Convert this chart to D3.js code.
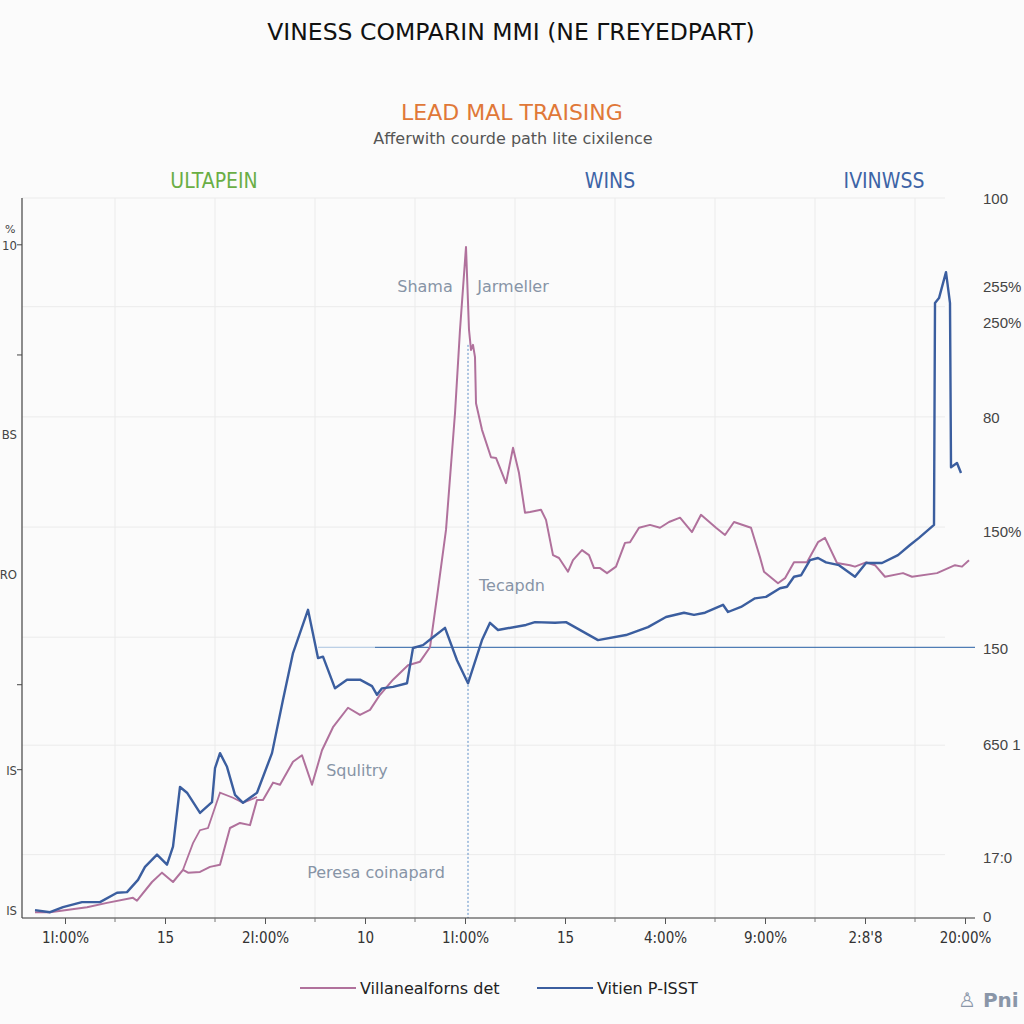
<!DOCTYPE html>
<html>
<head>
<meta charset="utf-8">
<script src="https://cdn.jsdelivr.net/npm/d3@7"></script>
<style>
  html, body { margin: 0; padding: 0; background: #fbfbfb; }
  svg { display: block; font-family: "DejaVu Sans", "Noto Sans", sans-serif; }
</style>
</head>
<body>
<div id="chart"></div>
<script>
// ── Data (x in tick units 10..100, y in 0..100) ─────────────
const pinkSeries = [
  [7.0,0.8],[8.5,0.8],[12.2,1.5],[14.2,2.1],[16.8,2.8],[17.2,2.4],[18.7,5.0],[19.7,6.3],
  [20.8,5.0],[21.8,6.7],[22.3,6.3],[23.5,6.4],[24.5,7.1],[25.5,7.4],[26.5,12.5],[27.5,13.2],
  [28.5,12.9],[29.2,16.4],[29.8,16.4],[30.8,18.8],[31.5,18.5],[32.8,21.7],[33.7,22.6],[34.7,18.5],
  [35.7,23.3],[36.8,26.5],[38.3,29.2],[39.5,28.2],[40.5,28.9],[41.5,31.0],[42.8,33.1],[44.3,35.1],
  [45.5,35.6],[46.5,37.6],[47.2,44.6],[48.1,53.9],[49.0,70.1],[49.5,81.7],[50.1,93.2],[50.4,81.7],
  [50.6,78.9],[50.8,79.6],[51.0,77.9],[51.1,71.5],[51.7,67.8],[52.6,64.0],[53.1,63.9],[54.1,60.4],
  [54.8,65.3],[55.4,61.8],[56.0,56.3],[56.5,56.4],[57.6,56.7],[58.1,55.3],[58.8,50.4],[59.4,50.0],
  [60.3,48.1],[60.8,49.7],[61.7,51.1],[62.4,50.4],[62.9,48.6],[63.5,48.6],[64.2,47.9],[65.1,48.8],
  [66.0,52.1],[66.5,52.2],[67.4,54.2],[68.5,54.6],[69.5,54.2],[70.4,55.0],[71.5,55.6],[72.7,53.6],
  [73.6,56.0],[75.1,54.2],[76.0,53.2],[76.9,55.0],[78.6,54.2],[79.5,50.1],[79.9,48.1],[81.3,46.5],
  [82.0,47.2],[82.9,49.4],[84.2,49.4],[85.3,52.2],[86.0,52.8],[87.2,49.3],[88.5,49.0],[89.0,48.8],
  [90.1,49.4],[91.0,49.0],[92.0,47.4],[93.8,47.9],[94.7,47.4],[97.2,47.9],[99.0,49.0],[99.7,48.8],
  [100.4,49.7]
];
const pinkEcho = [
  [21.8,6.7],[22.8,10.4],[23.5,12.2],[24.3,12.5],[25.5,17.4],[26.8,16.7],[27.8,16.0],[29.2,16.8]
];
const blueSeries = [
  [7.0,1.1],[8.5,0.8],[9.8,1.5],[11.7,2.2],[13.5,2.2],[15.2,3.5],[16.2,3.6],[17.3,5.3],
  [18.0,7.1],[19.2,8.8],[20.2,7.4],[20.8,9.9],[21.5,18.2],[22.2,17.4],[23.5,14.6],[24.7,16.1],
  [25.0,20.8],[25.5,22.9],[26.2,21.0],[27.0,17.1],[27.8,16.0],[29.2,17.4],[30.7,22.9],[31.8,30.3],
  [32.8,36.8],[34.3,42.8],[35.3,36.1],[35.8,36.3],[37.0,31.9],[38.2,33.1],[39.5,33.1],[40.7,32.2],
  [41.2,31.0],[41.7,31.9],[42.8,32.1],[44.2,32.6],[44.8,37.5],[45.8,37.9],[46.8,39.0],[48.0,40.3],
  [49.2,35.8],[50.3,32.6],[51.7,38.6],[52.5,41.0],[53.3,40.0],[56.1,40.7],[57.0,41.1],[59.0,41.0],
  [60.1,41.1],[63.3,38.6],[66.1,39.3],[68.3,40.4],[70.1,41.8],[71.9,42.4],[72.9,42.1],[74.0,42.4],
  [75.8,43.5],[76.3,42.5],[77.6,43.2],[79.0,44.4],[80.1,44.6],[81.5,45.8],[82.2,46.0],[82.9,47.4],
  [83.6,47.6],[84.5,49.7],[85.3,50.0],[86.1,49.4],[87.4,49.0],[89.0,47.4],[90.1,49.3],[91.7,49.3],
  [93.3,50.4],[94.5,51.8],[95.4,52.8],[96.9,54.6],[97.0,85.4],[97.4,86.1],[98.1,89.7],[98.5,85.4],
  [98.6,62.6],[99.2,63.2],[99.6,61.8]
];

const xTickValues = [10, 20, 30, 40, 50, 60, 70, 80, 90, 100];
const xTickLabels = ['1I:00%', '15', '2I:00%', '10', '1I:00%', '15', '4:00%', '9:00%', '2:8\'8', '20:00%'];
const xGridValues = [15, 25, 35, 45, 55, 65, 75, 85, 95];
const yGridValues = [8.8, 24, 39, 54.3, 69.6, 84.9, 100];

const rightTickValues = [100, 87.8, 82.8, 69.6, 53.8, 37.5, 24.2, 8.5, 0.3];
const rightTickLabels = ['100', '255%', '250%', '80', '150%', '150', '650 1', '17:0', '0'];
const leftTickMarks = [93.5, 78.2, 32.4, 20.6];
const leftTickValues = [93.5, 67.2, 47.8, 20.6, 1.1];
const leftTickLabels = ['10', 'BS', 'RO', 'IS', 'IS'];

const notes = [
  { text: 'Shama', x: 46.0, y: 87.8 },
  { text: 'Jarmeller', x: 54.8, y: 87.8 },
  { text: 'Tecapdn', x: 54.7, y: 46.2 },
  { text: 'Squlitry', x: 39.2, y: 20.6 },
  { text: 'Peresa coinapard', x: 41.1, y: 6.4 }
];
const headers = [
  { text: 'ULTAPEIN', x: 24.9, color: '#6aae45' },
  { text: 'WINS', x: 64.5, color: '#3d64a6' },
  { text: 'IVINWSS', x: 91.9, color: '#3d64a6' }
];
const legendItems = [
  { name: 'Villanealforns det', color: '#b0719c' },
  { name: 'Vitien P-ISST', color: '#3b5e9f' }
];

// ── Layout ──────────────────────────────────────────────────
const W = 1024, H = 1024;
const PINK = '#b0719c', BLUE = '#3b5e9f';
const NARROW = '"Liberation Sans Narrow", "DejaVu Sans Condensed", sans-serif';

const svg = d3.select('#chart').append('svg')
  .attr('width', W).attr('height', H);

svg.append('rect').attr('width', W).attr('height', H).attr('fill', '#fbfbfb');

const x = d3.scaleLinear().domain([10, 100]).range([65, 965]);
const y = d3.scaleLinear().domain([0, 100]).range([918, 198]);
const plotL = 22, plotR = 975;

// Titles
svg.append('text')
  .attr('x', 511).attr('y', 40)
  .attr('text-anchor', 'middle')
  .attr('font-size', 23.5).attr('fill', '#111')
  .text('VINESS COMPARIN MMI (NE ΓREYEDPART)');

svg.append('text')
  .attr('x', 512).attr('y', 120)
  .attr('text-anchor', 'middle')
  .attr('font-size', 22).attr('fill', '#e07838')
  .text('LEAD MAL TRAISING');

svg.append('text')
  .attr('x', 513).attr('y', 144)
  .attr('text-anchor', 'middle')
  .attr('font-size', 16).attr('fill', '#555')
  .text('Afferwith courde path lite cixilence');

svg.selectAll('text.header')
  .data(headers)
  .enter().append('text')
  .attr('class', 'header')
  .attr('x', d => x(d.x)).attr('y', 188)
  .attr('text-anchor', 'middle')
  .attr('font-family', NARROW)
  .attr('font-size', 21)
  .attr('fill', d => d.color)
  .text(d => d.text);

// Grid
const grid = svg.append('g');
grid.selectAll('line.gx')
  .data(xGridValues)
  .enter().append('line')
  .attr('x1', d => x(d)).attr('x2', d => x(d))
  .attr('y1', y(100)).attr('y2', y(0))
  .attr('stroke', '#ebebeb').attr('stroke-width', 1);

grid.selectAll('line.gy')
  .data(yGridValues)
  .enter().append('line')
  .attr('x1', plotL).attr('x2', plotR - 30)
  .attr('y1', d => y(d)).attr('y2', d => y(d))
  .attr('stroke', '#ebebeb').attr('stroke-width', 1);

// Reference lines
svg.append('line')
  .attr('x1', x(35.3)).attr('x2', x(41))
  .attr('y1', y(37.6)).attr('y2', y(37.6))
  .attr('stroke', '#a9c3e0').attr('stroke-width', 1);
svg.append('line')
  .attr('x1', x(41)).attr('x2', plotR)
  .attr('y1', y(37.6)).attr('y2', y(37.6))
  .attr('stroke', '#4f7db5').attr('stroke-width', 1.2);
svg.append('line')
  .attr('x1', x(50.3)).attr('x2', x(50.3))
  .attr('y1', y(79.6)).attr('y2', y(0))
  .attr('stroke', '#5a8cc6').attr('stroke-width', 1)
  .attr('stroke-dasharray', '2,2');

// Axes
const xAxis = d3.axisBottom(x)
  .tickValues(xTickValues)
  .tickFormat((d, i) => xTickLabels[i])
  .tickSize(6).tickPadding(8);
const gx = svg.append('g')
  .attr('transform', `translate(0,${y(0)})`)
  .call(xAxis);
gx.select('.domain').attr('d', `M${plotL},0H${plotR}`).attr('stroke', '#333');
gx.selectAll('.tick line').attr('stroke', '#555');
gx.selectAll('.tick text')
  .attr('fill', '#333')
  .attr('font-family', NARROW)
  .style('font-size', '15px');
gx.selectAll('line.minor')
  .data(xGridValues)
  .enter().append('line')
  .attr('x1', d => x(d)).attr('x2', d => x(d))
  .attr('y1', 0).attr('y2', 4)
  .attr('stroke', '#777');

// Left axis
const gl = svg.append('g');
gl.append('line')
  .attr('x1', plotL).attr('x2', plotL)
  .attr('y1', y(100)).attr('y2', y(0))
  .attr('stroke', '#444').attr('stroke-width', 1.2);
gl.selectAll('line.lt')
  .data(leftTickMarks)
  .enter().append('line')
  .attr('x1', plotL - 5).attr('x2', plotL)
  .attr('y1', d => y(d)).attr('y2', d => y(d))
  .attr('stroke', '#444');
gl.selectAll('text.ll')
  .data(leftTickValues)
  .enter().append('text')
  .attr('x', 17).attr('y', d => y(d) + 5)
  .attr('text-anchor', 'end')
  .attr('font-family', NARROW)
  .attr('font-size', 13).attr('fill', '#444')
  .text((d, i) => leftTickLabels[i]);
gl.append('text')
  .attr('x', 5).attr('y', y(93.5) - 12)
  .attr('font-size', 11).attr('fill', '#444')
  .text('%');

// Right labels
svg.selectAll('text.rl')
  .data(rightTickValues)
  .enter().append('text')
  .attr('x', 983).attr('y', d => y(d) + 6)
  .attr('font-family', '"Liberation Sans", Arial, sans-serif')
  .attr('font-size', 15).attr('fill', '#444')
  .text((d, i) => rightTickLabels[i]);

// Series
const line = d3.line()
  .x(d => x(d[0]))
  .y(d => y(d[1]));

svg.append('path')
  .datum(pinkEcho)
  .attr('d', line)
  .attr('fill', 'none').attr('stroke', PINK).attr('stroke-width', 1.8);
svg.append('path')
  .datum(pinkSeries)
  .attr('d', line)
  .attr('fill', 'none').attr('stroke', PINK).attr('stroke-width', 2)
  .attr('stroke-linejoin', 'round');
svg.append('path')
  .datum(blueSeries)
  .attr('d', line)
  .attr('fill', 'none').attr('stroke', BLUE).attr('stroke-width', 2.4)
  .attr('stroke-linejoin', 'round');

// Annotations
svg.selectAll('text.note')
  .data(notes)
  .enter().append('text')
  .attr('class', 'note')
  .attr('x', d => x(d.x)).attr('y', d => y(d.y) + 6)
  .attr('text-anchor', 'middle')
  .attr('font-size', 16).attr('fill', '#8794a6')
  .text(d => d.text);

// Legend
const legend = svg.append('g').attr('transform', 'translate(300,988)');
const item = legend.selectAll('g')
  .data(legendItems)
  .enter().append('g')
  .attr('transform', (d, i) => `translate(${i * 237},0)`);
item.append('line')
  .attr('x1', 0).attr('x2', 56)
  .attr('stroke', d => d.color).attr('stroke-width', 2);
item.append('text')
  .attr('x', 60).attr('y', 6)
  .attr('font-size', 16).attr('fill', '#222')
  .text(d => d.name);

// Watermark
svg.append('text')
  .attr('x', 958).attr('y', 1007)
  .attr('font-size', 20).attr('font-weight', 'bold').attr('fill', '#8a96a8')
  .text('♙ Pni');
</script>
</body>
</html>
